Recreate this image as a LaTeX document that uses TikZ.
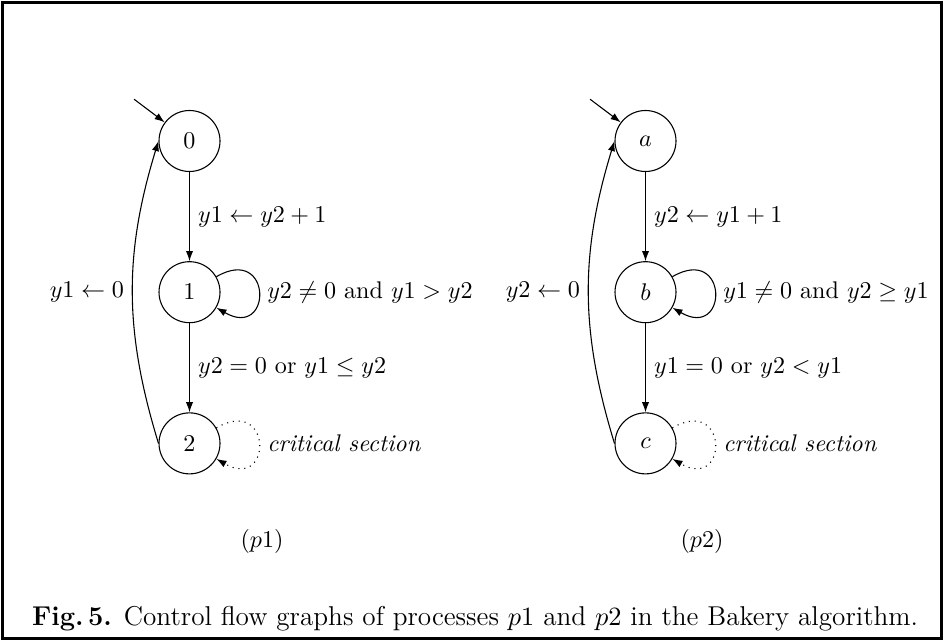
\documentclass[tikz,border=0pt]{standalone}
\usetikzlibrary{arrows.meta,positioning}
\tikzset{
  flow/.style={-{Latex[length=4.2pt,width=3pt]}, draw=black, line width=0.45pt},
  section flow/.style={flow, dotted},
  cfg state/.style={circle, draw=black, line width=0.45pt, minimum size=0.89cm, inner sep=0pt},
  self loop/.style={out=30, in=-30, min distance=9.5mm},
  frame line/.style={draw=black, line width=1pt},
  caption text/.style={anchor=base west, inner sep=0pt, font=\fontsize{11.3}{13.5}\selectfont},
}
\newcommand{\stategap}{1.3cm}

\begin{document}
\begin{tikzpicture}[node distance=\stategap]
  \useasboundingbox (0,0) rectangle (13.773,-9.352);
  \draw[frame line] (0.036,-0.036) rectangle (13.737,-9.316);

  % process p1
  \node[cfg state] (s0) at (2.765,-2.057) {$0$};
  \node[cfg state, below=of s0] (s1) {$1$};
  \node[cfg state, below=of s1] (s2) {$2$};
  \coordinate (init0) at ([shift={(143:0.56)}]s0.143);

  \draw[flow] (init0) -- (s0);
  \draw[flow] (s0) -- node[right] {$y1 \leftarrow y2 + 1$} (s1);
  \draw[flow] (s1) -- node[right] {$y2 = 0$ or $y1 \leq y2$} (s2);
  \draw[flow] (s1) to[self loop] node[right] {$y2 \neq 0$ and $y1 > y2$} (s1);
  \draw[section flow] (s2) to[self loop] node[right] {\textit{critical section}} (s2);
  \draw[flow] (s2.west) to[bend left=17] node[left] {$y1 \leftarrow 0$} (s0.west);
  \node (p1) at (3.823,-7.893) {$(p1)$};

  % process p2
  \node[cfg state] (sa) at (9.418,-2.057) {$a$};
  \node[cfg state, below=of sa] (sb) {$b$};
  \node[cfg state, below=of sb] (sc) {$c$};
  \coordinate (inita) at ([shift={(143:0.56)}]sa.143);

  \draw[flow] (inita) -- (sa);
  \draw[flow] (sa) -- node[right] {$y2 \leftarrow y1 + 1$} (sb);
  \draw[flow] (sb) -- node[right] {$y1 = 0$ or $y2 < y1$} (sc);
  \draw[flow] (sb) to[self loop] node[right] {$y1 \neq 0$ and $y2 \geq y1$} (sb);
  \draw[section flow] (sc) to[self loop] node[right] {\textit{critical section}} (sc);
  \draw[flow] (sc.west) to[bend left=17] node[left] {$y2 \leftarrow 0$} (sa.west);
  \node (p2) at (10.242,-7.893) {$(p2)$};

  \node[caption text] (caption) at (0.46,-9.13)
    {\textbf{Fig.\,5.} Control flow graphs of processes $p1$ and $p2$ in the Bakery algorithm.};
\end{tikzpicture}
\end{document}
